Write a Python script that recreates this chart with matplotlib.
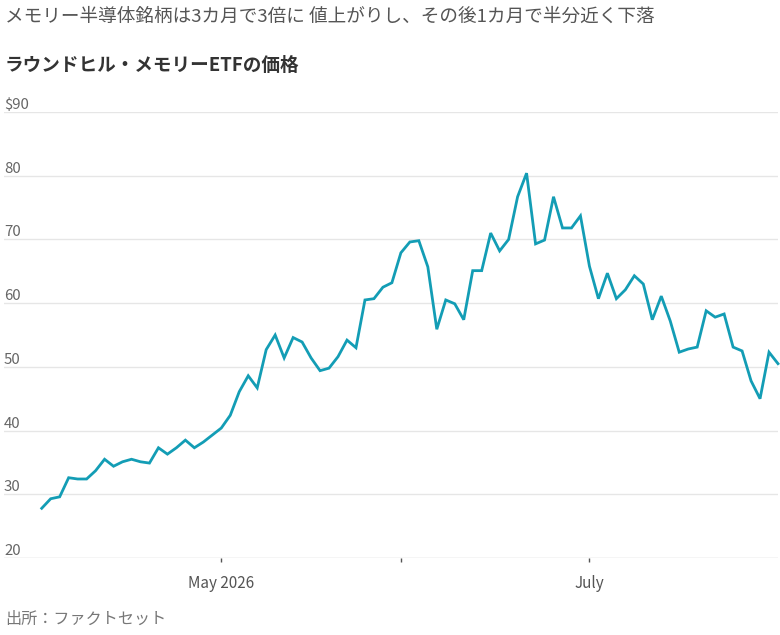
import matplotlib
matplotlib.use("Agg")
import matplotlib.pyplot as plt

plt.rcParams['font.family'] = ['Noto Sans CJK JP', 'DejaVu Sans']

title = "メモリー半導体銘柄は3カ月で3倍に 値上がりし、その後1カ月で半分近く下落"
subtitle = "ラウンドヒル・メモリーETFの価格"
source = "出所：ファクトセット"

# trading-day closing prices (Apr 2 - Jul 31, 2026)
prices = [27.8, 29.3, 29.6, 32.6, 32.4, 32.4, 33.7, 35.5, 34.4, 35.1,
          35.5, 35.1, 34.9, 37.3, 36.3, 37.3, 38.5, 37.3, 38.2, 39.3,
          40.4, 42.4, 46.1, 48.6, 46.7, 52.7, 55.0, 51.4, 54.6, 53.9,
          51.4, 49.4, 49.8, 51.6, 54.2, 53.0, 60.5, 60.7, 62.5, 63.2,
          67.9, 69.6, 69.8, 65.7, 55.9, 60.5, 59.9, 57.4, 65.1, 65.1,
          71.0, 68.2, 70.0, 76.7, 80.4, 69.3, 69.9, 76.7, 71.8, 71.8,
          73.7, 65.8, 60.7, 64.7, 60.7, 62.1, 64.3, 63.0, 57.4, 61.1,
          57.2, 52.3, 52.8, 53.1, 58.8, 57.8, 58.3, 53.1, 52.5, 47.8,
          45.0, 52.3, 50.5]
month_tick_idx = [20, 40, 61]
month_tick_labels = ["May 2026", "", "July"]
y_ticks = [20, 30, 40, 50, 60, 70, 80, 90]
y_tick_labels = ["20", "30", "40", "50", "60", "70", "80", "$90"]

fig = plt.figure(figsize=(7.8, 6.35), dpi=100)
ax = fig.add_axes([4/780, 1-558/635, 774/780, (558-112)/635])

x = list(range(len(prices)))
ax.plot(x, prices, color='#139db5', lw=2.0, solid_joinstyle='miter', zorder=3, clip_on=False)

ax.set_xlim(-4.2, len(prices) - 1)
ax.set_ylim(20, 90)

for v in y_ticks:
    ax.axhline(v, color='#cccccc' if v == 20 else '#e6e6e6', lw=1.0, zorder=1)
for v, lab in zip(y_ticks, y_tick_labels):
    ax.text(0, v, lab, transform=ax.get_yaxis_transform(), ha='left', va='bottom',
            fontsize=10.8, color='#666666')

ax.set_yticks([])
for s in ax.spines.values():
    s.set_visible(False)

ax.set_xticks(month_tick_idx)
ax.set_xticklabels(month_tick_labels, fontsize=11, color='#555555')
ax.tick_params(axis='x', length=3, width=1, color='#555555', pad=9, direction='out')

fig.text(5/780, 1-17/635, title, ha='left', va='center', fontsize=13.4, color='#555555')
fig.text(5/780, 1-65/635, subtitle, ha='left', va='center', fontsize=13.4, color='#333333',
         fontweight='bold')
fig.text(5/780, 1-619/635, source, ha='left', va='center', fontsize=11.6, color='#777777')

fig.savefig("out.png", dpi=100)
